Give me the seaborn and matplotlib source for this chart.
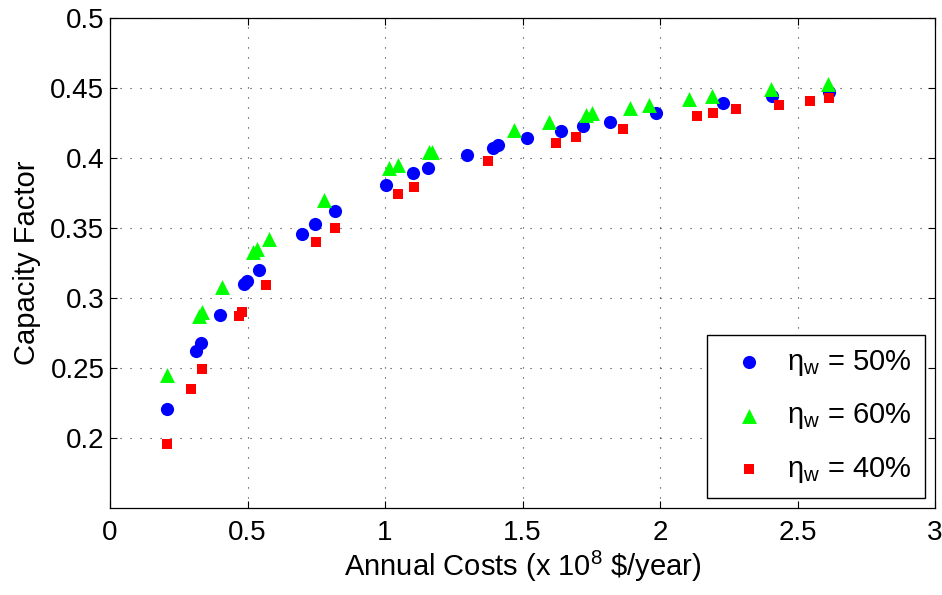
import matplotlib
matplotlib.use("Agg")
import matplotlib.pyplot as plt
import seaborn as sns
import pandas as pd

# Data
x_50 = [0.206, 0.311, 0.331, 0.400, 0.488, 0.497, 0.543, 0.697, 0.746, 0.818,
        1.004, 1.103, 1.158, 1.299, 1.394, 1.412, 1.517, 1.641, 1.719, 1.819,
        1.985, 2.228, 2.406, 2.615]
y_50 = [0.221, 0.262, 0.268, 0.288, 0.310, 0.312, 0.320, 0.346, 0.353, 0.362,
        0.381, 0.389, 0.393, 0.402, 0.407, 0.409, 0.414, 0.419, 0.423, 0.426,
        0.432, 0.439, 0.444, 0.447]

x_60 = [0.206, 0.325, 0.335, 0.406, 0.520, 0.535, 0.578, 0.778, 1.016, 1.048,
        1.161, 1.172, 1.469, 1.596, 1.731, 1.753, 1.891, 1.960, 2.107, 2.190,
        2.402, 2.612]
y_60 = [0.245, 0.287, 0.290, 0.308, 0.333, 0.335, 0.342, 0.370, 0.393, 0.395,
        0.404, 0.404, 0.420, 0.426, 0.431, 0.432, 0.436, 0.438, 0.442, 0.444,
        0.449, 0.453]

x_40 = [0.206, 0.296, 0.333, 0.468, 0.479, 0.566, 0.748, 0.819, 1.046, 1.106,
        1.376, 1.623, 1.696, 1.867, 2.135, 2.193, 2.278, 2.434, 2.547, 2.613]
y_40 = [0.196, 0.235, 0.249, 0.287, 0.290, 0.309, 0.340, 0.350, 0.374, 0.379,
        0.398, 0.411, 0.415, 0.421, 0.430, 0.432, 0.435, 0.438, 0.441, 0.443]

labels = [r'$\mathrm{\eta_w}$ = 50%', r'$\mathrm{\eta_w}$ = 60%', r'$\mathrm{\eta_w}$ = 40%']
colors = ['#0000ff', '#00ff00', '#ff0000']
markers = ['o', '^', 's']
sizes = [90, 115, 62]

x_ticks = [0, 0.5, 1, 1.5, 2, 2.5, 3]
x_ticklabels = ['0', '0.5', '1', '1.5', '2', '2.5', '3']
y_ticks = [0.2, 0.25, 0.3, 0.35, 0.4, 0.45, 0.5]
y_ticklabels = ['0.2', '0.25', '0.3', '0.35', '0.4', '0.45', '0.5']

sns.set_style("white")
plt.rcParams['font.family'] = ['Liberation Sans', 'DejaVu Sans']
plt.rcParams['mathtext.fontset'] = 'custom'
plt.rcParams['mathtext.rm'] = 'Liberation Sans'
plt.rcParams['mathtext.it'] = 'Liberation Sans:italic'
plt.rcParams['text.color'] = 'black'
plt.rcParams['axes.labelcolor'] = 'black'
plt.rcParams['xtick.color'] = 'black'
plt.rcParams['ytick.color'] = 'black'

FS_TICK = 20
FS_LAB = 21

fig = plt.figure(figsize=(9.42, 5.95), dpi=100)
ax = fig.add_axes([110 / 942, 1 - 508 / 595, 825 / 942, 490 / 595])

series = [(x_50, y_50), (x_60, y_60), (x_40, y_40)]
for (xs, ys), lab, c, m, s in zip(series, labels, colors, markers, sizes):
    df = pd.DataFrame({'x': xs, 'y': ys})
    sns.scatterplot(data=df, x='x', y='y', ax=ax, color=c, marker=m, s=s,
                    linewidth=0, label=lab, zorder=3)

ax.set_xlim(0, 3)
ax.set_ylim(0.15, 0.5)
ax.set_xticks(x_ticks)
ax.set_xticklabels(x_ticklabels)
ax.set_yticks(y_ticks)
ax.set_yticklabels(y_ticklabels)
ax.tick_params(direction='in', length=5, width=0.8, labelsize=FS_TICK, top=True, right=True,
               bottom=True, left=True, colors='black')
ax.tick_params(axis='x', pad=9)
ax.tick_params(axis='y', pad=4)
ax.grid(True, color='0.2', linestyle=(0, (1, 8)), linewidth=0.8)
ax.set_axisbelow(True)
for sp in ax.spines.values():
    sp.set_visible(True)
    sp.set_color('black')
    sp.set_linewidth(0.9)

ax.set_xlabel(r'Annual Costs (x 10$^{8}$ \$/year)', fontsize=FS_LAB, labelpad=2, color='black')
ax.set_ylabel('Capacity Factor', fontsize=FS_LAB, labelpad=7, color='black')

leg = ax.legend(loc='lower right', fontsize=FS_LAB, frameon=True, fancybox=False,
                framealpha=1, edgecolor='black', borderaxespad=0.35,
                labelspacing=0.8, handletextpad=0.3, borderpad=0.45,
                handlelength=2.0, labelcolor='black')
leg.get_frame().set_linewidth(1.0)

fig.savefig('out.png', dpi=100)
